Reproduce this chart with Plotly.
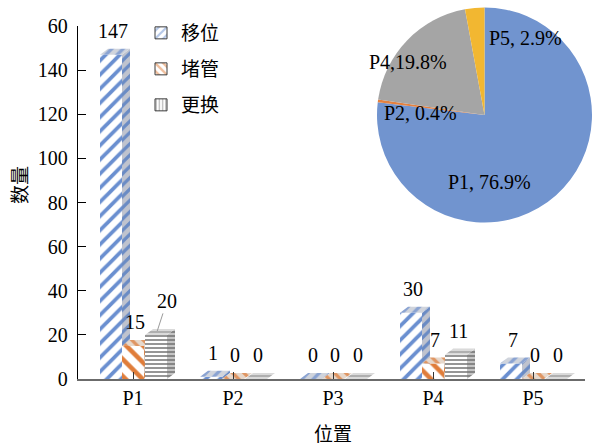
import plotly.graph_objects as go

# ---- data ----
categories = ["P1", "P2", "P3", "P4", "P5"]
yiwei = [147, 1, 0, 30, 7]        # 移位
duguan = [15, 0, 0, 7, 0]         # 堵管
genghuan = [20, 0, 0, 11, 0]      # 更换
series_names = ["移位", "堵管", "更换"]
pie_share = [76.9, 0.4, 0.0, 19.8, 2.9]   # 占比 %
y_tickvals = [0, 20, 40, 60, 80, 100, 120, 140, 160]
y_ticktext = ["0", "20", "40", "60", "80", "100", "120", "140", "60"]

# ---- style ----
SERIF = "Liberation Serif, Times New Roman, Noto Sans CJK SC, serif"
CJK = "Noto Sans CJK SC, serif"
W, H = 592, 447
L, R, T, B = 78, 585, 26, 379          # plot area in pixels
X_RANGE = [-0.55, 4.52]
Y_RANGE = [0, 160]
px_per_y = (B - T) / (Y_RANGE[1] - Y_RANGE[0])

bar_w = 0.22
offsets = [-0.22, 0.0, 0.23]
depth_x = 0.08                  # 3D depth, x units
depth_y = 6 / px_per_y          # 3D depth, y units

faces = [
    # front, side, top : (shape, fg, bg, size, solidity)
    dict(front=("/", "#6a8fd0", "#ffffff", 10, 0.38),
         side=("/", "#6a8bc4", "#bfc3ce", 8, 0.4),
         top=("/", "#8aa3d2", "#d0d4dc", 8, 0.4)),
    dict(front=("\\", "#e07d3a", "#ffffff", 12, 0.38),
         side=("\\", "#d8844a", "#d6c5b8", 8, 0.4),
         top=("\\", "#df9562", "#e6d8cc", 8, 0.4)),
    dict(front=("-", "#969696", "#ffffff", 4, 0.5),
         side=("-", "#858585", "#c4c4c4", 4, 0.5),
         top=("-", "#aaaaaa", "#dadada", 4, 0.45)),
]
legend_pat = [("/", "#6a8fd0", "#ffffff", 7, 0.4),
              ("\\", "#e07d3a", "#ffffff", 7, 0.42),
              ("|", "#8c8c8c", "#ffffff", 4, 0.5)]

pie_colors = ["#7194cf", "#e5813f", "#a6a6a6", "#a5a5a5", "#f2b731"]


def poly_trace(xs, ys, pat):
    shape, fg, bg, size, sol = pat
    return go.Scatter(
        x=xs, y=ys, mode="none", fill="toself", fillcolor=bg,
        fillpattern=dict(shape=shape, fgcolor=fg, bgcolor=bg,
                         size=size, solidity=sol, fillmode="replace"),
        hoverinfo="skip", showlegend=False, xaxis="x", yaxis="y")


fig = go.Figure()

all_series = [yiwei, duguan, genghuan]
for si, vals in enumerate(all_series):
    fx, fy, sx, sy, tx, ty = [], [], [], [], [], []
    for ci, v in enumerate(vals):
        x0 = ci + offsets[si] - bar_w / 2
        x1 = x0 + bar_w
        # front face
        fx += [x0, x1, x1, x0, x0, None]
        fy += [0, 0, v, v, 0, None]
        # side face
        sx += [x1, x1 + depth_x, x1 + depth_x, x1, x1, None]
        sy += [0, depth_y, v + depth_y, v, 0, None]
        # top face
        tx += [x0, x1, x1 + depth_x, x0 + depth_x, x0, None]
        ty += [v, v, v + depth_y, v + depth_y, v, None]
    fig.add_trace(poly_trace(fx, fy, faces[si]["front"]))
    fig.add_trace(poly_trace(sx, sy, faces[si]["side"]))
    fig.add_trace(poly_trace(tx, ty, faces[si]["top"]))

# legend entries
legend_keys = ["legend", "legend2", "legend3"]
for si, name in enumerate(series_names):
    shape, fg, bg, size, sol = legend_pat[si]
    fig.add_trace(go.Bar(
        x=[None], y=[None], name=name, legend=legend_keys[si],
        marker=dict(color=bg, line=dict(color="#3a3a3a", width=1),
                    pattern=dict(shape=shape, fgcolor=fg, bgcolor=bg,
                                 size=size, solidity=sol)),
        showlegend=True, xaxis="x", yaxis="y"))

# pie of share per position
fig.add_trace(go.Pie(
    values=pie_share, labels=categories, sort=False, direction="clockwise",
    rotation=0, textinfo="none", hoverinfo="skip", showlegend=False,
    marker=dict(colors=pie_colors, line=dict(width=0)),
    domain=dict(x=[377 / W, 1.0], y=[1 - 223 / H, 1 - 7 / H])))

annotations = []

# bar value labels
for si, vals in enumerate(all_series):
    for ci, v in enumerate(vals):
        xc = ci + offsets[si]
        if si == 2 and ci == 0:
            annotations.append(dict(
                x=xc, y=v, xref="x", yref="y", text=str(v), showarrow=True,
                arrowhead=0, arrowwidth=1, arrowcolor="#9a9a9a",
                ax=11, ay=-34, standoff=4,
                font=dict(family=SERIF, size=20, color="black")))
        else:
            annotations.append(dict(
                x=xc, y=v, xref="x", yref="y", text=str(v), showarrow=False,
                xshift=2, yshift=24, yanchor="middle",
                font=dict(family=SERIF, size=20, color="black")))

# pie labels
pie_label_pos = {"P1": (489, 182), "P2": (420, 113), "P4": (408, 62), "P5": (525, 38)}
for c, v in zip(categories, pie_share):
    if c not in pie_label_pos:
        continue
    sep = "," if c == "P4" else ", "
    px, py = pie_label_pos[c]
    annotations.append(dict(
        x=px / W, y=1 - py / H, xref="paper", yref="paper",
        text=f"{c}{sep}{v}%", showarrow=False,
        xanchor="center", yanchor="middle",
        font=dict(family=SERIF, size=20, color="black")))

# axis titles
annotations.append(dict(x=333 / W, y=1 - 432 / H, xref="paper", yref="paper",
                        text="位置", showarrow=False, xanchor="center", yanchor="middle",
                        font=dict(family=CJK, size=19, color="black")))
annotations.append(dict(x=18 / W, y=1 - 185 / H, xref="paper", yref="paper",
                        text="数量", showarrow=False, textangle=-90,
                        xanchor="center", yanchor="middle",
                        font=dict(family=CJK, size=19, color="black")))

legend_y = [33, 69, 105]
legend_common = dict(xanchor="left", yanchor="middle", bgcolor="rgba(0,0,0,0)",
                     borderwidth=0, font=dict(family=CJK, size=19, color="black"),
                     itemclick=False, itemdoubleclick=False)

fig.update_layout(
    width=W, height=H, autosize=False,
    margin=dict(l=0, r=0, t=0, b=0, autoexpand=False),
    paper_bgcolor="white", plot_bgcolor="white",
    xaxis=dict(domain=[L / W, R / W], range=X_RANGE, automargin=False,
               tickvals=list(range(len(categories))), ticktext=categories,
               showgrid=False, zeroline=False, showline=True,
               linecolor="#6b6b6b", linewidth=1.5,
               ticks="inside", ticklen=7, tickwidth=1.2, tickcolor="#333333",
               ticklabelstandoff=0,
               tickfont=dict(family=SERIF, size=20, color="black")),
    yaxis=dict(domain=[1 - B / H, 1 - T / H], range=Y_RANGE, automargin=False,
               tickvals=y_tickvals, ticktext=y_ticktext,
               showgrid=False, zeroline=False, showline=True,
               linecolor="black", linewidth=1.3,
               ticks="inside", ticklen=8, tickwidth=1.3, tickcolor="black",
               ticklabelstandoff=5,
               tickfont=dict(family=SERIF, size=20, color="black")),
    legend=dict(x=141 / W, y=1 - legend_y[0] / H, **legend_common),
    legend2=dict(x=141 / W, y=1 - legend_y[1] / H, **legend_common),
    legend3=dict(x=141 / W, y=1 - legend_y[2] / H, **legend_common),
    annotations=annotations,
    showlegend=True,
)

fig.write_html("out.html")
